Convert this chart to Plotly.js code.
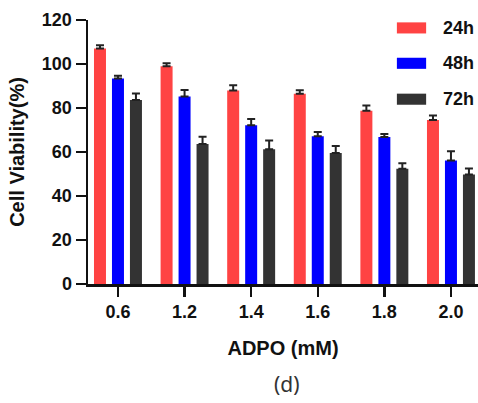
<!DOCTYPE html>
<html>
<head>
<meta charset="utf-8">
<script src="https://cdn.plot.ly/plotly-3.0.1.min.js"></script>
<style>html,body{margin:0;padding:0;background:#fff;}#chart{width:478px;height:403px;}</style>
</head>
<body>
<div id="chart"></div>
<script>
const categories = ["0.6", "1.2", "1.4", "1.6", "1.8", "2.0"];
const seriesNames = ["24h", "48h", "72h"];
const values24h = [107, 99, 88, 86.5, 78.8, 74.5];
const errors24h = [1.5, 1.3, 2.3, 1.6, 2.3, 2.1];
const values48h = [93.4, 85.2, 72.2, 67.2, 66.8, 56.1];
const errors48h = [1.3, 3.0, 2.8, 1.9, 1.4, 4.2];
const values72h = [83.6, 63.6, 61.2, 59.5, 52.4, 49.8];
const errors72h = [3.0, 3.3, 4.0, 3.2, 2.5, 2.7];
const colors = ["#FF4343", "#0000FF", "#333333"];
const yTicks = [0, 20, 40, 60, 80, 100, 120];

const allValues = [values24h, values48h, values72h];
const allErrors = [errors24h, errors48h, errors72h];

const traces = seriesNames.map((name, i) => ({
  type: "bar",
  name: name,
  x: categories,
  y: allValues[i],
  marker: {color: colors[i], line: {width: 0}},
  error_y: {type: "data", symmetric: false, array: allErrors[i], arrayminus: allErrors[i].map(() => 0), color: "#222", thickness: 2, width: 4},
  showlegend: false,
  hoverinfo: "none"
}));

const font = "Liberation Sans, Arial, sans-serif";
const shapes = [];
const annotations = [];
const legendY = [0.970, 0.836, 0.700];
seriesNames.forEach((name, i) => {
  shapes.push({type: "rect", xref: "paper", yref: "paper", x0: 0.792, x1: 0.867,
    y0: legendY[i] - 0.021, y1: legendY[i] + 0.021, fillcolor: colors[i], line: {width: 0}});
  annotations.push({xref: "paper", yref: "paper", x: 0.905, y: legendY[i], xanchor: "left", yanchor: "middle",
    text: "<b>" + name + "</b>", showarrow: false, font: {family: font, size: 18, color: "#111"}});
});
annotations.push({xref: "paper", yref: "paper", x: 0.511, y: -0.377, xanchor: "center", yanchor: "middle",
  text: "(d)", showarrow: false, font: {family: "Noto Sans, DejaVu Sans, sans-serif", size: 21, color: "#333"}});

const layout = {
  width: 478, height: 403,
  margin: {l: 88, r: 0, t: 20, b: 119},
  paper_bgcolor: "#fff", plot_bgcolor: "#fff",
  barmode: "group", bargap: 0.19, bargroupgap: 0.333,
  font: {family: font, color: "#111"},
  xaxis: {
    type: "category", range: [-0.45, 5.406], showgrid: false, zeroline: false,
    showline: true, linecolor: "#111", linewidth: 2.5,
    ticks: "outside", ticklen: 10, tickwidth: 2.5, tickcolor: "#111",
    tickfont: {family: font, size: 18, color: "#111", weight: "bold"},
    title: {text: "<b>ADPO (mM)</b>", font: {family: font, size: 20, color: "#111"}, standoff: 20}
  },
  yaxis: {
    range: [0, 120], tickvals: yTicks, showgrid: false, zeroline: false,
    showline: true, linecolor: "#111", linewidth: 2.5,
    ticks: "outside", ticklen: 10, tickwidth: 2.5, tickcolor: "#111",
    tickfont: {family: font, size: 18, color: "#111", weight: "bold"},
    title: {text: "<b>Cell Viability(%)</b>", font: {family: font, size: 20, color: "#111"}, standoff: 12}
  },
  shapes: shapes,
  annotations: annotations
};

Plotly.newPlot("chart", traces, layout, {staticPlot: true, displayModeBar: false});
</script>
</body>
</html>
